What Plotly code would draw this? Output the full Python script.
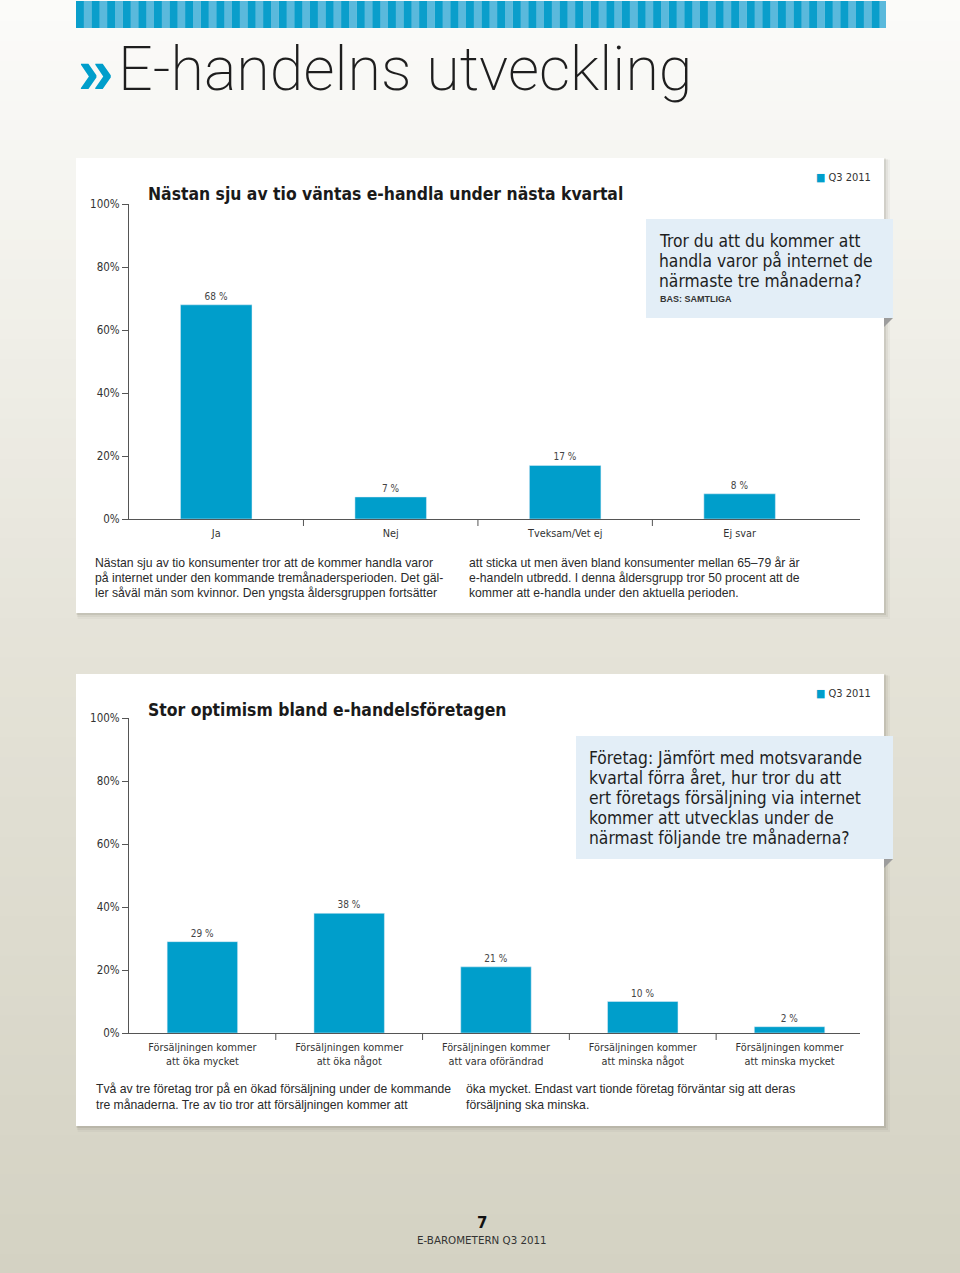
import plotly.graph_objects as go

# ---------------- data ----------------
series_name = "Q3 2011"

cat1 = ["Ja", "Nej", "Tveksam/Vet ej", "Ej svar"]
val1 = [68, 7, 17, 8]

cat2 = ["Försäljningen kommer<br>att öka mycket",
        "Försäljningen kommer<br>att öka något",
        "Försäljningen kommer<br>att vara oförändrad",
        "Försäljningen kommer<br>att minska något",
        "Försäljningen kommer<br>att minska mycket"]
val2 = [29, 38, 21, 10, 2]

y_ticks = [0, 20, 40, 60, 80, 100]
y_ticktext = [f"{v}%" for v in y_ticks]

page_title = "E-handelns utveckling"
head1 = "Nästan sju av tio väntas e-handla under nästa kvartal"
head2 = "Stor optimism bland e-handelsföretagen"
q1_lines = ["Tror du att du kommer att", "handla varor på internet de", "närmaste tre månaderna?"]
q1_base = "BAS: SAMTLIGA"
q2_lines = ["Företag: Jämfört med motsvarande", "kvartal förra året, hur tror du att",
            "ert företags försäljning via internet", "kommer att utvecklas under de",
            "närmast följande tre månaderna?"]
p1_left = ["Nästan sju av tio konsumenter tror att de kommer handla varor",
           "på internet under den kommande tremånadersperioden. Det gäl-",
           "ler såväl män som kvinnor. Den yngsta åldersgruppen fortsätter"]
p1_right = ["att sticka ut men även bland konsumenter mellan 65–79 år är",
            "e-handeln utbredd. I denna åldersgrupp tror 50 procent att de",
            "kommer att e-handla under den aktuella perioden."]
p2_left = ["Två av tre företag tror på en ökad försäljning under de kommande",
           "tre månaderna. Tre av tio tror att försäljningen kommer att"]
p2_right = ["öka mycket. Endast vart tionde företag förväntar sig att deras",
            "försäljning ska minska."]
footer_num = "7"
footer_txt = "E-BAROMETERN Q3 2011"

# ---------------- styling helpers ----------------
W, H = 960, 1273
OFF, S = 6.0, 0.989   # vertical calibration of the rendered page
def X(px): return px / W
def Y(py): return 1 - ((py - OFF) / S) / H

BLUE = "#009ecb"
NARROW = "DejaVu Sans Condensed, Liberation Sans Narrow, sans-serif"
BODY = "Liberation Sans, Arial, sans-serif"

def lerp(c1, c2, t):
    a = [int(c1[i:i+2], 16) for i in (1, 3, 5)]
    b = [int(c2[i:i+2], 16) for i in (1, 3, 5)]
    return "#" + "".join(f"{round(a[k] + (b[k]-a[k])*t):02x}" for k in range(3))

shapes = []
# background gradient
nb = 64
for i in range(nb):
    t = i / (nb - 1)
    if t < 0.5:
        col = lerp("#fbfbf9", "#e5e3d8", t / 0.5)
    else:
        col = lerp("#e5e3d8", "#d4d2c3", (t - 0.5) / 0.5)
    shapes.append(dict(type="rect", xref="paper", yref="paper", layer="below",
                       x0=0, x1=1, y0=Y(H * (i + 1) / nb) - 0.001, y1=Y(H * i / nb),
                       fillcolor=col, line=dict(width=0)))

# striped banner
x = 76.0
period = 15.6
while x < 886:
    shapes.append(dict(type="rect", xref="paper", yref="paper", layer="below",
                       x0=X(x), x1=X(min(x + period, 886)), y0=Y(27), y1=Y(0),
                       fillcolor="#5ab9dc", line=dict(width=0)))
    shapes.append(dict(type="rect", xref="paper", yref="paper", layer="below",
                       x0=X(x), x1=X(min(x + period / 2, 886)), y0=Y(27), y1=Y(0),
                       fillcolor="#0a9ecb", line=dict(width=0)))
    x += period

def card(x0, y0, x1, y1):
    for off, a in [(6, 0.04), (4, 0.06), (2, 0.10)]:
        shapes.append(dict(type="rect", xref="paper", yref="paper", layer="below",
                           x0=X(x0 + off * 0.3), x1=X(x1 + off), y0=Y(y1 + off), y1=Y(y0 + off * 0.3),
                           fillcolor=f"rgba(60,55,40,{a})", line=dict(width=0)))
    shapes.append(dict(type="rect", xref="paper", yref="paper", layer="below",
                       x0=X(x0), x1=X(x1), y0=Y(y1), y1=Y(y0),
                       fillcolor="#ffffff", line=dict(width=0)))

card(76, 157, 884, 612)
card(76, 673, 884, 1125)

def qbox(x0, y0, x1, y1):
    shapes.append(dict(type="rect", xref="paper", yref="paper", layer="below",
                       x0=X(x0), x1=X(x1), y0=Y(y1), y1=Y(y0),
                       fillcolor="#e3eef7", line=dict(width=0)))
    shapes.append(dict(type="path", xref="paper", yref="paper", layer="below",
                       path=f"M {X(884)} {Y(y1)} L {X(x1)} {Y(y1)} L {X(884)} {Y(y1 + 9)} Z",
                       fillcolor="#9c9c9c", line=dict(width=0)))

qbox(646, 218, 893, 317)
qbox(576, 735, 893, 858)

# category boundary ticks
def boundary_ticks(n, xref, y_axis_px):
    for i in range(n - 1):
        shapes.append(dict(type="line", xref=xref, yref="paper",
                           x0=i + 0.5, x1=i + 0.5, y0=Y(y_axis_px + 7), y1=Y(y_axis_px),
                           line=dict(color="#555555", width=1)))

boundary_ticks(len(cat1), "x", 518)
boundary_ticks(len(cat2), "x2", 1032)

# ---------------- traces ----------------
fig = go.Figure()
fig.add_trace(go.Bar(x=cat1, y=val1, name=series_name, marker_color=BLUE, width=0.41,
                     text=[f"{v} %" for v in val1], textposition="outside",
                     textfont=dict(family=NARROW, size=10, color="#444"),
                     cliponaxis=False, xaxis="x", yaxis="y", showlegend=False))
fig.add_trace(go.Bar(x=cat2, y=val2, name=series_name, marker_color=BLUE, width=0.48,
                     text=[f"{v} %" for v in val2], textposition="outside",
                     textfont=dict(family=NARROW, size=10, color="#444"),
                     cliponaxis=False, xaxis="x2", yaxis="y2", showlegend=False))

xcommon = dict(type="category", showline=True, linecolor="#555555", linewidth=1,
               ticks="", showgrid=False, zeroline=False, ticklabelstandoff=4,
               tickfont=dict(family=NARROW, size=10.8, color="#333"), fixedrange=True)
ycommon = dict(range=[0, 100], tickvals=y_ticks, ticktext=y_ticktext, showline=True,
               linecolor="#555555", linewidth=1, ticks="outside", ticklen=6, tickcolor="#555555",
               showgrid=False, zeroline=False,
               tickfont=dict(family=NARROW, size=11.5, color="#333"), fixedrange=True)

fig.update_layout(
    width=W, height=H, margin=dict(l=0, r=0, t=0, b=0),
    paper_bgcolor="#fbfbf9", plot_bgcolor="rgba(0,0,0,0)",
    xaxis=dict(xcommon, domain=[X(129), X(860)], range=[-0.5, 3.69], anchor="y"),
    yaxis=dict(ycommon, domain=[Y(518), Y(203)], anchor="x"),
    xaxis2=dict(xcommon, domain=[X(129), X(860)], range=[-0.5, 4.48], anchor="y2"),
    yaxis2=dict(ycommon, domain=[Y(1032), Y(717)], anchor="x2"),
    shapes=shapes, bargap=0.5,
)

ann = []
def text(xp, yp, s, size, family=NARROW, color="#222", xanchor="left", yanchor="middle",
         weight="normal", **kw):
    ann.append(dict(x=X(xp), y=Y(yp), xref="paper", yref="paper", text=s, showarrow=False,
                    xanchor=xanchor, yanchor=yanchor, align="left",
                    font=dict(family=family, size=size, color=color, weight=weight), **kw))

# page title
text(76, 70, "»", 64, family="Liberation Sans, Arial", color=BLUE, weight="bold")
ann.append(dict(x=X(116), y=Y(68), xref="paper", yref="paper", text=page_title, showarrow=False,
                xanchor="left", yanchor="middle",
                font=dict(family="Roboto, Open Sans, sans-serif", size=61, color="#1e1e1e",
                          weight=200)))

# headlines
text(146, 193, f"<b>{head1}</b>", 17.4, color="#1a1a1a")
text(146, 709, f"<b>{head2}</b>", 17.4, color="#1a1a1a")

# legends
for yp in (176, 692):
    text(873, yp, f"<span style='color:{BLUE}'>■</span> {series_name}", 11, color="#333",
         xanchor="right")

# question boxes
for i, s in enumerate(q1_lines):
    text(657, 240 + 20 * i, s, 17.3, color="#1e1e1e", height=20)
text(658, 298, f"<b>{q1_base}</b>", 9, family=BODY, color="#333")
for i, s in enumerate(q2_lines):
    text(587, 757 + 20 * i, s, 17.3, color="#1e1e1e", height=20)

# paragraphs
def para(xp, yp, lines, step=15.2):
    for i, s in enumerate(lines):
        text(xp, yp + step * i, s, 12.2, family=BODY, color="#2a2a2a")

para(93, 562, p1_left)
para(467, 562, p1_right)
para(94, 1088, p2_left, 16)
para(464, 1088, p2_right, 16)

# footer
text(482, 1222, f"<b>{footer_num}</b>", 15, family="DejaVu Sans", color="#111", xanchor="center")
text(482, 1239, footer_txt, 10.3, family="DejaVu Sans", color="#333", xanchor="center")

fig.update_layout(annotations=ann)

page_css = (
    "var st=document.createElement('style');"
    "st.textContent='html,body{margin:0;padding:0;height:1273px;overflow:hidden;"
    "background:linear-gradient(#fbfbf9,#d4d2c3)}"
    "body>div{height:1273px;overflow:hidden;line-height:0}';"
    "document.head.appendChild(st);window.scrollTo(0,0);"
)
fig.write_html("out.html", config={"displayModeBar": False}, post_script=page_css)
